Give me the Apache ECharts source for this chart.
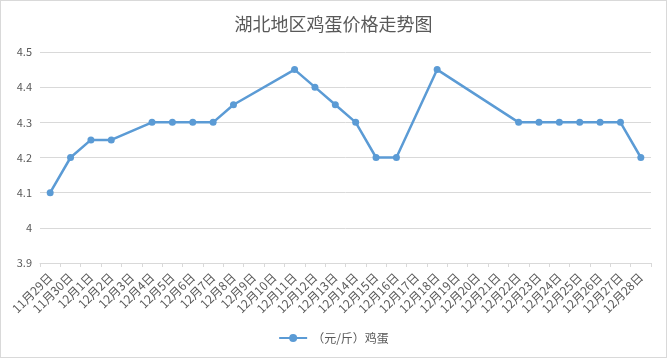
<!DOCTYPE html>
<html><head><meta charset="utf-8">
<script src="https://cdn.jsdelivr.net/npm/echarts@6/dist/echarts.min.js"></script>
<style>html,body{margin:0;padding:0;background:#fff}#c{width:667px;height:358px;box-sizing:border-box;border:1px solid #d9d9d9}</style>
</head><body><div id="c"></div>
<script>
const categories = ['11月29日','11月30日','12月1日','12月2日','12月3日','12月4日','12月5日','12月6日','12月7日','12月8日','12月9日','12月10日','12月11日','12月12日','12月13日','12月14日','12月15日','12月16日','12月17日','12月18日','12月19日','12月20日','12月21日','12月22日','12月23日','12月24日','12月25日','12月26日','12月27日','12月28日'];
const eggPrice = [4.1,4.2,4.25,4.25,null,4.3,4.3,4.3,4.3,4.35,null,null,4.45,4.4,4.35,4.3,4.2,4.2,null,4.45,null,null,null,4.3,4.3,4.3,4.3,4.3,4.3,4.2];
const seriesName = '（元/斤）鸡蛋';
const titleText = '湖北地区鸡蛋价格走势图';
const yMin = 3.9, yMax = 4.5, yStep = 0.1;

const chart = echarts.init(document.getElementById('c'));
const font = '"Microsoft YaHei","Noto Sans CJK SC",sans-serif';
chart.setOption({
  animation:false,
  title:{text:titleText,left:'center',top:9,textStyle:{color:'#595959',fontSize:18,fontWeight:'normal',fontFamily:font}},
  legend:{bottom:8,left:'center',itemWidth:28,itemHeight:10,textStyle:{color:'#595959',fontSize:12,fontFamily:font},data:[seriesName]},
  grid:{left:39,right:15,top:51,bottom:94},
  xAxis:{type:'category',data:categories,boundaryGap:true,
    axisLine:{lineStyle:{color:'#d9d9d9',width:1}},
    axisTick:{show:true,length:4,lineStyle:{color:'#d9d9d9'}},
    axisLabel:{interval:0,rotate:45,color:'#595959',fontSize:12,fontFamily:font,margin:12}},
  yAxis:{type:'value',min:yMin,max:yMax,interval:yStep,
    axisLine:{show:false},axisTick:{show:false},
    splitLine:{lineStyle:{color:'#d9d9d9'}},
    axisLabel:{color:'#595959',fontSize:11,fontFamily:font,margin:8,formatter:v=>String(+v.toFixed(1))}},
  series:[{name:seriesName,type:'line',data:eggPrice,connectNulls:true,
    symbol:'circle',symbolSize:7,
    lineStyle:{color:'#5B9BD5',width:2.5},itemStyle:{color:'#5B9BD5'}}]
});
</script></body></html>
